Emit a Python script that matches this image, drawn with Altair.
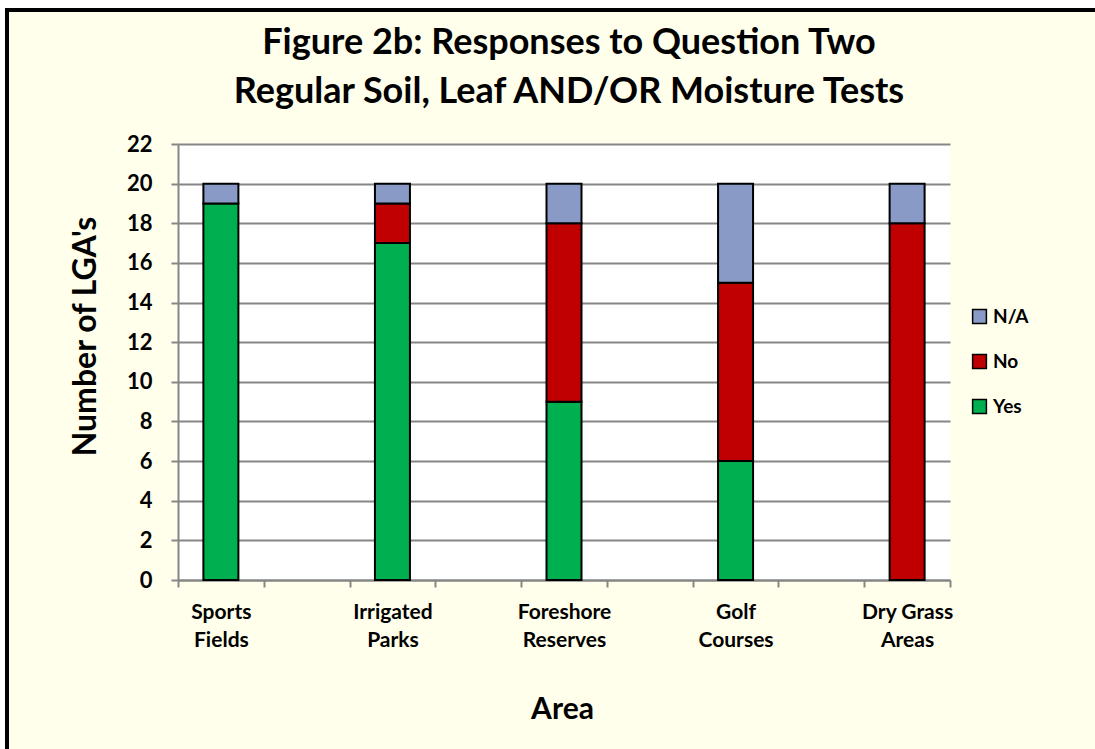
import altair as alt
import pandas as pd

areas = ["Sports Fields", " ", "Irrigated Parks", "  ", "Foreshore Reserves", "   ",
         "Golf Courses", "    ", "Dry Grass Areas"]
bar_areas = ["Sports Fields", "Irrigated Parks", "Foreshore Reserves", "Golf Courses", "Dry Grass Areas"]
yes = [19, 17, 9, 6, 0]
no = [0, 2, 9, 9, 18]
na = [1, 1, 2, 5, 2]
responses = ["N/A", "No", "Yes"]
colors = ["#8A9AC6", "#C00000", "#00B050"]
y_ticks = list(range(0, 23, 2))
title_lines = ["Figure 2b: Responses to Question Two", "Regular Soil, Leaf AND/OR Moisture Tests"]

rows = []
for i, a in enumerate(bar_areas):
    for r, v, o in (("Yes", yes[i], 0), ("No", no[i], 1), ("N/A", na[i], 2)):
        if v > 0:
            rows.append({"Area": a, "Response": r, "Count": v, "order": o})
df = pd.DataFrame(rows)

FONT = "Lato"
W, H = 772, 436
PL, PT = 178, 144
PR, PB = 1095 - PL - W, 749 - PT - H

one = pd.DataFrame({"a": [0]})

white_edge = alt.Chart(one).mark_rect(fillOpacity=0, stroke="white", strokeWidth=16).encode(
    x=alt.value(-PL), y=alt.value(-PT), x2=alt.value(W + PR + 40), y2=alt.value(H + PB + 40)
)
border = alt.Chart(one).mark_rect(fillOpacity=0, stroke="black", strokeWidth=4).encode(
    x=alt.value(7 - PL), y=alt.value(10 - PT), x2=alt.value(W + PR + 40), y2=alt.value(H + PB + 40)
)
title = alt.Chart(one).mark_text(
    text=title_lines, font=FONT, fontSize=36, fontWeight="bold", color="black",
    lineHeight=49, align="center", baseline="alphabetic"
).encode(x=alt.value(W / 2 + 5), y=alt.value(54 - PT))

bars = alt.Chart(df).mark_bar(size=35, stroke="black", strokeWidth=2).encode(
    x=alt.X("Area:N", scale=alt.Scale(domain=areas, paddingInner=0, paddingOuter=0),
            axis=alt.Axis(title="Area", labelAngle=0, tickBand="extent",
                          labelExpr="trim(datum.label) == '' ? '' : (datum.label == 'Dry Grass Areas' ? ['Dry Grass', 'Areas'] : split(datum.label, ' '))",
                          labelFontSize=21, labelFontWeight="bold", labelColor="black", labelFont=FONT,
                          labelLineHeight=28, labelPadding=14, labelBaseline="top",
                          tickSize=7, tickColor="#868686", tickWidth=2,
                          domainColor="#868686", domainWidth=2,
                          titleFontSize=30, titleFontWeight="bold", titleFont=FONT, titleColor="black",
                          titleX=384, titleY=129, titleBaseline="middle")),
    y=alt.Y("Count:Q", stack="zero", scale=alt.Scale(domain=[0, 22]),
            axis=alt.Axis(title="Number of LGA's", values=y_ticks,
                          labelFontSize=22, labelFontWeight="bold", labelColor="black", labelFont=FONT,
                          labelPadding=19,
                          tickSize=7, tickColor="#868686", tickWidth=2,
                          domainColor="#868686", domainWidth=2,
                          grid=True, gridColor="#868686", gridWidth=2,
                          titleFontSize=32, titleFontWeight="bold", titleFont=FONT, titleColor="black",
                          titleX=-93, titleY=192, titleAngle=-90, titleBaseline="middle")),
    color=alt.Color("Response:N", sort=responses,
                    scale=alt.Scale(domain=responses, range=colors),
                    legend=alt.Legend(title=None, orient="none", legendX=792, legendY=163,
                                      symbolType="square", symbolSize=190, symbolStrokeColor="black",
                                      symbolStrokeWidth=1.5, symbolOpacity=1,
                                      labelFontSize=19, labelFontWeight="bold", labelFont=FONT,
                                      labelColor="black", rowPadding=24, labelOffset=4)),
    order=alt.Order("order:Q", sort="ascending"),
)

chart = alt.layer(white_edge, border, title, bars).properties(
    width=W, height=H,
    background="#FFFFEB",
    padding={"left": PL, "top": PT, "right": PR, "bottom": PB},
    autosize="none",
).configure_view(fill="white", stroke=None)

chart.save("out.html", embed_options={"renderer": "svg", "actions": False})
